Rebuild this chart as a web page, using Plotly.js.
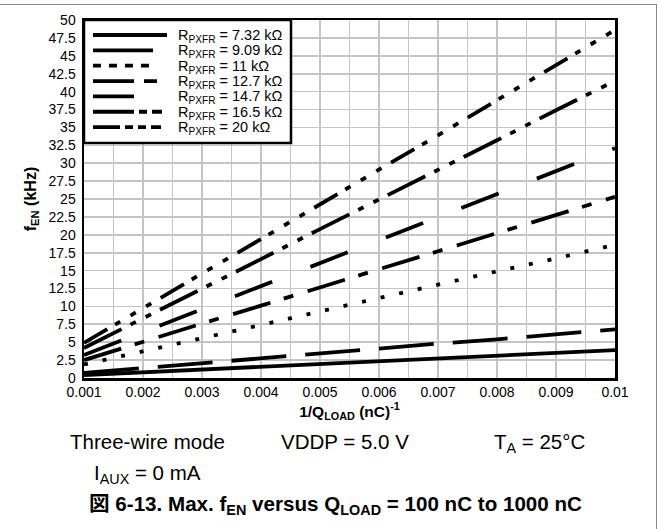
<!DOCTYPE html>
<html>
<head>
<meta charset="utf-8">
<script src="https://cdn.plot.ly/plotly-3.0.1.min.js"></script>
<style>
  html, body { margin:0; padding:0; background:#fff; }
  #wrap { position:relative; width:660px; height:529px; overflow:hidden; }
  #chart { position:absolute; left:0; top:0; width:660px; height:529px; }
  #frame { position:absolute; left:-10px; top:4px; width:666px; height:540px;
           border-top:1.5px solid #8a8a8a; border-right:1.5px solid #8a8a8a; pointer-events:none; }
</style>
</head>
<body>
<div id="wrap">
  <div id="chart"></div>
  <div id="frame"></div>
</div>
<script>
// 1/Q_LOAD (nC^-1)
const invQ = [0.001, 0.002, 0.003, 0.004, 0.005, 0.006, 0.007, 0.008, 0.009, 0.01];
// f_EN (kHz) per R_PXFR
const f_7_32 = [0.4, 0.8, 1.2, 1.6, 2.0, 2.35, 2.7, 3.1, 3.5, 3.9];
const f_9_09 = [0.7, 1.4, 2.0, 2.7, 3.4, 4.1, 4.8, 5.4, 6.1, 6.8];
const f_11   = [1.9, 3.7, 5.6, 7.4, 9.3, 11.2, 13.0, 14.9, 16.7, 18.6];
const f_12_7 = [2.5, 5.1, 7.6, 10.1, 12.7, 15.2, 17.7, 20.2, 22.8, 25.3];
const f_14_7 = [3.2, 6.4, 9.6, 12.9, 16.1, 19.3, 22.5, 25.7, 28.9, 32.1];
const f_16_5 = [4.2, 8.3, 12.5, 16.6, 20.8, 24.9, 29.0, 33.2, 37.4, 41.5];
const f_20   = [4.9, 9.8, 14.6, 19.4, 24.3, 29.1, 33.9, 38.8, 43.7, 48.6];

// R_PXFR values (kOhm), legend labels
const seriesNames = ['7.32', '9.09', '11', '12.7', '14.7', '16.5', '20'];
const seriesValues = [f_7_32, f_9_09, f_11, f_12_7, f_14_7, f_16_5, f_20];

// styles
const dashes = ['solid', '55px,19px', '4px,15px', '39px,14px,10px,15px', '40px,41px',
                '42px,10px,6px,11px,6px,10px', '27px,9px,6px,12px,6px,12px,6px,11px'];
const legendDashes = ['solid', 'solid', '8px,8px', '41px,10px,13px,200px', 'solid',
                      '41px,5px,8px,5px,10px,200px', '27px,5px,8px,5px,8px,5px,10px,200px'];
const legendLen = [74, 60, 64, 77, 41, 69, 69];

const FONT = 'Liberation Sans, Arial, Helvetica, sans-serif';
const labelOf = n => 'R<sub>PXFR</sub> = ' + n + ' k\u03A9';

const traces = seriesValues.map((ys, i) => ({
  type: 'scatter',
  mode: 'lines',
  x: invQ,
  y: ys,
  name: labelOf(seriesNames[i]),
  showlegend: false,
  line: { color: '#000', width: 3.8, dash: dashes[i] }
}));

const X0 = 84, X1 = 615, Y0 = 20, Y1 = 378;
const px = v => (v - X0) / (X1 - X0);
const py = v => (Y1 - v) / (Y1 - Y0);

// legend box (drawn as paper shapes + text)
const shapes = [{
  type: 'rect', xref: 'paper', yref: 'paper', layer: 'above',
  x0: px(84), x1: px(291), y0: py(143), y1: py(20),
  line: { color: '#000', width: 2.5 }, fillcolor: '#fff'
}];
const legendAnn = [];
seriesNames.forEach((n, i) => {
  const yy = 35 + i * 15.35;
  shapes.push({
    type: 'line', xref: 'paper', yref: 'paper', layer: 'above',
    x0: px(93), x1: px(93 + legendLen[i]), y0: py(yy), y1: py(yy),
    line: { color: '#000', width: 3.8, dash: legendDashes[i] }
  });
  legendAnn.push({
    text: labelOf(n), x: px(176), y: py(yy + 1), xanchor: 'left', yanchor: 'middle',
    font: { family: FONT, size: 14.5, color: '#000' }
  });
});

const layout = {
  width: 660, height: 529,
  margin: { l: X0, r: 660 - X1, t: Y0, b: 529 - Y1 },
  paper_bgcolor: '#fff', plot_bgcolor: '#fff',
  font: { family: FONT, color: '#000', size: 14 },
  showlegend: false,
  xaxis: {
    range: [0.001, 0.01], tick0: 0.001, dtick: 0.001,
    showgrid: true, gridcolor: '#c4c4c4', gridwidth: 1.6,
    minor: { dtick: 0.0005, showgrid: true, gridcolor: '#c4c4c4', gridwidth: 1.6 },
    showline: true, linecolor: '#000', linewidth: 2.5, mirror: true,
    zeroline: false, ticks: '', tickfont: { size: 14 },
    title: { text: '<b>1/Q<sub>LOAD</sub> (nC)<sup>-1</sup></b>', font: { size: 15.5 }, standoff: 0 }
  },
  yaxis: {
    range: [0, 50], tick0: 0, dtick: 2.5,
    showgrid: true, gridcolor: '#c4c4c4', gridwidth: 1.6,
    showline: true, linecolor: '#000', linewidth: 2.5, mirror: true,
    zeroline: false, ticks: '', tickfont: { size: 14 }, ticklabelstandoff: 3,
    title: { text: '<b>f<sub>EN</sub> (kHz)</b>', font: { size: 16 }, standoff: 8 }
  },
  shapes: shapes,
  annotations: legendAnn.concat([
    { text: 'Three-wire mode', x: px(68), y: py(441), xanchor: 'left', yanchor: 'middle' },
    { text: 'VDDP = 5.0 V', x: px(279), y: py(441), xanchor: 'left', yanchor: 'middle' },
    { text: 'T<sub>A</sub> = 25\u00B0C', x: px(492), y: py(443), xanchor: 'left', yanchor: 'middle' },
    { text: 'I<sub>AUX</sub> = 0 mA', x: px(92), y: py(474), xanchor: 'left', yanchor: 'middle' }
  ].map(a => Object.assign({ font: { family: FONT, size: 20.5, color: '#000' } }, a)))
  .concat([
    { text: '<b>\u56F3 6-13. Max. f<sub>EN</sub> versus Q<sub>LOAD</sub> = 100 nC to 1000 nC</b>',
      x: px(87), y: py(505), xanchor: 'left', yanchor: 'middle',
      font: { family: FONT + ', Noto Sans CJK JP', size: 20.6, color: '#000' } }
  ]).map(a => Object.assign({ xref: 'paper', yref: 'paper', showarrow: false }, a))
};

Plotly.newPlot('chart', traces, layout, { displayModeBar: false, staticPlot: true });
</script>
</body>
</html>
